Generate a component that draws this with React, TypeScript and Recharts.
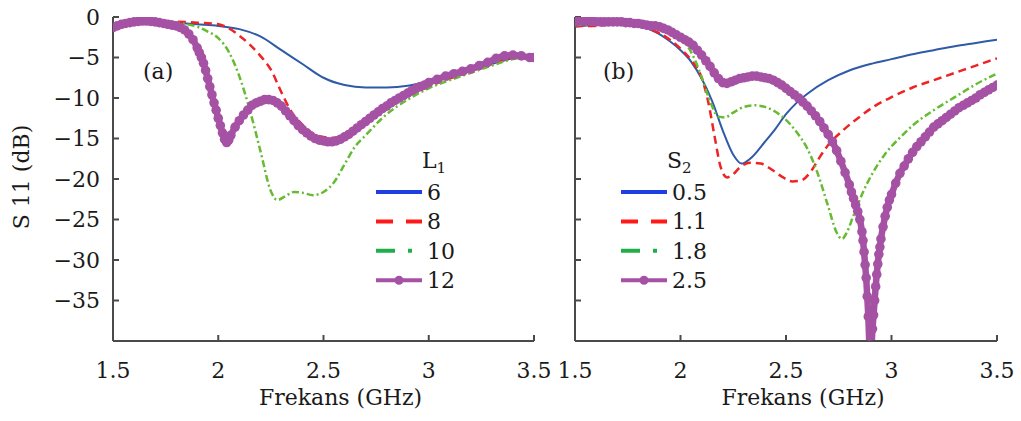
import React from 'react';
import { LineChart, Line, XAxis, YAxis, Legend } from 'recharts';

const FONT = '"DejaVu Serif", serif';
const TEXT = '#1a1a1a';
const AXIS = '#4a4a4a';
const FS = 22;

const X_TICKS = [1.5, 2, 2.5, 3, 3.5];
const Y_TICKS = [-35, -30, -25, -20, -15, -10, -5, 0];

// series styles, order: thin solid, dashed, dash-dot, thick with markers
const CURVE_COLORS = ['#2f5aa8', '#ee2424', '#66bb33', '#a552a5'];
const KEY_COLORS = ['#1f3fe0', '#ff1a1a', '#1fae48', '#a552a5'];
const CURVE_DASH = [undefined, '8 5', '7 3 2 3', undefined];
const CURVE_WIDTH = [2, 2.5, 2.5, 6.5];
const KEY_DASH = [undefined, '17 13', '19 13 4 20', undefined];

// (a) L1 sweep
const namesA = ['6', '8', '10', '12'];
const freqA6 = [1.5, 1.6, 1.7, 1.8, 1.9, 2.0, 2.1, 2.2, 2.3, 2.4, 2.5, 2.6, 2.7, 2.8, 2.9, 3.0, 3.1, 3.2, 3.3, 3.4, 3.5];
const s11A6 = [-1.0, -0.7, -0.6, -0.7, -0.9, -1.1, -1.5, -2.4, -4.1, -5.8, -7.5, -8.4, -8.7, -8.7, -8.5, -7.9, -7.2, -6.5, -5.8, -5.1, -4.9];
const freqA8 = [1.5, 1.6, 1.7, 1.8, 1.9, 2.0, 2.05, 2.1, 2.15, 2.2, 2.25, 2.3, 2.35, 2.4, 2.45, 2.5, 2.55, 2.6, 2.7, 2.8, 2.9, 3.0, 3.1, 3.2, 3.3, 3.4, 3.5];
const s11A8 = [-0.9, -0.7, -0.6, -0.6, -0.7, -0.9, -1.4, -2.3, -3.4, -4.8, -6.5, -9.3, -11.8, -13.3, -14.4, -14.8, -14.9, -14.5, -13.0, -11.3, -9.8, -8.6, -7.6, -6.7, -5.8, -5.0, -4.8];
const freqA10 = [1.5, 1.6, 1.7, 1.8, 1.85, 1.9, 1.95, 2.0, 2.05, 2.1, 2.15, 2.2, 2.25, 2.28, 2.32, 2.36, 2.4, 2.45, 2.5, 2.55, 2.6, 2.65, 2.7, 2.8, 2.9, 3.0, 3.1, 3.2, 3.3, 3.4, 3.5];
const s11A10 = [-1.0, -0.7, -0.6, -0.7, -0.9, -1.2, -1.8, -2.6, -4.3, -7.3, -11.5, -16.5, -21.5, -22.6, -22.1, -21.6, -21.7, -22.0, -21.6, -20.4, -18.2, -16.0, -14.6, -12.0, -10.2, -8.8, -7.8, -6.9, -6.0, -5.2, -4.9];
const freqA12 = [
  1.5, 1.52, 1.54, 1.56, 1.58, 1.6, 1.62, 1.64, 1.66, 1.68, 1.7, 1.72, 1.74, 1.76, 1.78, 1.8, 1.82, 1.84, 1.86, 1.88,
  1.9, 1.91, 1.92, 1.93, 1.94, 1.95, 1.96, 1.97, 1.98, 1.99, 2.0, 2.01, 2.02, 2.03, 2.04, 2.05, 2.06, 2.08, 2.1, 2.12,
  2.14, 2.16, 2.18, 2.2, 2.22, 2.24, 2.26, 2.28, 2.3, 2.32, 2.34, 2.36, 2.38, 2.4, 2.42, 2.44, 2.46, 2.48, 2.5, 2.52,
  2.54, 2.56, 2.58, 2.6, 2.62, 2.64, 2.66, 2.68, 2.7, 2.72, 2.74, 2.76, 2.78, 2.8, 2.82, 2.84, 2.86, 2.88, 2.9, 2.92,
  2.94, 2.96, 2.98, 3.0, 3.04, 3.08, 3.12, 3.16, 3.2, 3.24, 3.28, 3.32, 3.36, 3.4, 3.44, 3.48, 3.5,
];
const s11A12 = [
  -1.3, -1.1, -0.9, -0.8, -0.7, -0.6, -0.55, -0.5, -0.5, -0.55, -0.6, -0.7, -0.8, -0.9, -1.0, -1.1, -1.3, -1.6, -2.1, -2.8,
  -3.8, -4.4, -5.0, -5.7, -6.6, -7.6, -8.6, -9.6, -10.6, -11.5, -12.5, -13.4, -14.3, -15.1, -15.5, -15.2, -14.6, -13.6, -12.8, -12.1,
  -11.5, -10.9, -10.6, -10.4, -10.2, -10.2, -10.3, -10.6, -11.0, -11.6, -12.2, -12.8, -13.4, -13.9, -14.3, -14.7, -15.0, -15.2, -15.3, -15.4,
  -15.4, -15.3, -15.1, -14.8, -14.5, -14.1, -13.7, -13.3, -12.9, -12.5, -12.1, -11.7, -11.3, -11.0, -10.6, -10.3, -10.0, -9.7, -9.4, -9.1,
  -8.8, -8.6, -8.4, -8.1, -7.7, -7.3, -7.0, -6.7, -6.4, -6.0, -5.6, -5.1, -4.8, -4.7, -4.8, -5.0, -5.0,
];

// (b) S2 sweep
const namesB = ['0.5', '1.1', '1.8', '2.5'];
const freqB05 = [1.5, 1.6, 1.7, 1.8, 1.85, 1.9, 1.95, 2.0, 2.05, 2.1, 2.15, 2.2, 2.25, 2.29, 2.33, 2.4, 2.45, 2.5, 2.55, 2.6, 2.7, 2.8, 2.9, 3.0, 3.1, 3.2, 3.3, 3.4, 3.5];
const s11B05 = [-1.2, -1.0, -0.9, -1.2, -1.5, -2.1, -3.0, -4.1, -5.5, -7.6, -10.4, -14.0, -17.0, -18.1, -17.5, -15.4, -13.8, -12.0, -10.6, -9.5, -7.8, -6.6, -5.8, -5.2, -4.6, -4.1, -3.6, -3.2, -2.8];
const freqB11 = [1.5, 1.6, 1.7, 1.8, 1.85, 1.9, 1.95, 2.0, 2.05, 2.1, 2.13, 2.16, 2.19, 2.22, 2.25, 2.28, 2.33, 2.38, 2.43, 2.48, 2.53, 2.57, 2.62, 2.66, 2.7, 2.77, 2.85, 2.92, 3.0, 3.1, 3.2, 3.3, 3.4, 3.5];
const s11B11 = [-1.1, -1.1, -0.9, -1.1, -1.5, -2.0, -2.8, -3.9, -5.3, -7.5, -10.3, -14.5, -18.5, -19.8, -19.4, -18.6, -18.0, -18.1, -18.8, -19.7, -20.3, -20.2, -19.0, -17.3, -15.8, -14.0, -12.3, -11.0, -9.9, -8.7, -7.8, -6.9, -6.0, -5.1];
const freqB18 = [1.5, 1.6, 1.7, 1.8, 1.85, 1.9, 1.95, 2.0, 2.05, 2.1, 2.14, 2.18, 2.21, 2.25, 2.3, 2.35, 2.4, 2.45, 2.5, 2.55, 2.6, 2.65, 2.7, 2.74, 2.765, 2.79, 2.82, 2.86, 2.91, 2.97, 3.04, 3.1, 3.2, 3.3, 3.4, 3.5];
const s11B18 = [-1.0, -0.9, -0.8, -1.0, -1.3, -1.6, -2.0, -2.6, -4.3, -7.4, -10.4, -12.3, -12.4, -11.8, -11.1, -10.9, -11.1, -11.7, -12.7, -14.2, -16.2, -19.3, -23.4, -26.6, -27.4, -26.5, -24.5, -21.9, -19.3, -16.9, -14.9, -13.4, -11.5, -9.9, -8.3, -7.0];
const freqB25 = [
  1.5, 1.52, 1.54, 1.56, 1.58, 1.6, 1.62, 1.64, 1.66, 1.68, 1.7, 1.72, 1.74, 1.76, 1.78, 1.8, 1.82, 1.84, 1.86, 1.88,
  1.9, 1.92, 1.94, 1.96, 1.98, 2.0, 2.02, 2.04, 2.06, 2.08, 2.1, 2.12, 2.14, 2.16, 2.18, 2.2, 2.22, 2.24, 2.26, 2.28,
  2.3, 2.32, 2.34, 2.36, 2.38, 2.4, 2.42, 2.44, 2.46, 2.48, 2.5, 2.52, 2.54, 2.56, 2.58, 2.6, 2.62, 2.64, 2.66, 2.68,
  2.7, 2.72, 2.74, 2.76, 2.78, 2.8, 2.81, 2.82, 2.83, 2.84, 2.85, 2.86, 2.865, 2.87, 2.875, 2.88, 2.885, 2.89, 2.895, 2.9,
  2.905, 2.91, 2.915, 2.92, 2.925, 2.93, 2.935, 2.94, 2.945, 2.95, 2.96, 2.97, 2.98, 2.99, 3.0, 3.02, 3.04, 3.06, 3.08, 3.1,
  3.12, 3.14, 3.16, 3.18, 3.2, 3.22, 3.24, 3.26, 3.28, 3.3, 3.32, 3.34, 3.36, 3.38, 3.4, 3.42, 3.44, 3.46, 3.48, 3.5,
];
const s11B25 = [
  -0.6, -0.5, -0.5, -0.5, -0.5, -0.6, -0.6, -0.6, -0.6, -0.6, -0.6, -0.6, -0.7, -0.7, -0.8, -0.8, -0.9, -1.0, -1.1, -1.1,
  -1.2, -1.4, -1.6, -1.9, -2.2, -2.5, -2.8, -3.1, -3.5, -4.1, -4.7, -5.4, -6.1, -6.9, -7.6, -8.1, -8.2, -8.0, -7.8, -7.6,
  -7.5, -7.4, -7.3, -7.3, -7.4, -7.5, -7.6, -7.8, -8.1, -8.4, -8.8, -9.2, -9.6, -10.0, -10.5, -11.0, -11.6, -12.2, -12.9, -13.7,
  -14.5, -15.4, -16.5, -17.8, -19.2, -20.7, -21.6, -22.4, -23.2, -24.0, -25.0, -26.5, -27.6, -29.0, -30.6, -32.2, -34.5, -37.0, -40.5, -45.0,
  -41.0, -38.5, -36.8, -35.0, -33.3, -31.8, -30.5, -29.3, -28.4, -27.4, -25.9, -24.6, -23.5, -22.6, -21.9, -20.5, -19.3, -18.4, -17.5, -16.7,
  -16.0, -15.4, -14.8, -14.2, -13.6, -13.2, -12.8, -12.4, -12.0, -11.6, -11.2, -10.9, -10.6, -10.3, -10.0, -9.6, -9.3, -9.0, -8.7, -8.4,
];

const toPoints = (f: number[], v: number[]) => f.map((x, i) => ({ f: x, v: v[i] }));

const seriesA = [toPoints(freqA6, s11A6), toPoints(freqA8, s11A8), toPoints(freqA10, s11A10), toPoints(freqA12, s11A12)];
const seriesB = [toPoints(freqB05, s11B05), toPoints(freqB11, s11B11), toPoints(freqB18, s11B18), toPoints(freqB25, s11B25)];

const fmtY = (v: number) => (v === 0 ? '0' : `\u2212${Math.abs(v)}`);

function KeyBox({ title, sub, names }: { title: string; sub: string; names: string[] }) {
  return (
    <svg width={110} height={160} style={{ display: 'block' }}>
      <text x={52} y={28} fontFamily={FONT} fontSize={FS} fill={TEXT}>
        {title}
        <tspan fontSize={15} dy={5}>{sub}</tspan>
      </text>
      {names.map((n, i) => {
        const cy = 52 + i * 29.4;
        return (
          <g key={n}>
            <line x1={6} x2={52} y1={cy} y2={cy} stroke={KEY_COLORS[i]} strokeWidth={4} strokeDasharray={KEY_DASH[i]} />
            {i === 3 && <circle cx={29} cy={cy} r={4.5} fill={KEY_COLORS[i]} />}
            <text x={57} y={cy + 8} fontFamily={FONT} fontSize={FS} fill={TEXT}>{n}</text>
          </g>
        );
      })}
    </svg>
  );
}

interface PanelProps {
  left: number;
  width: number;
  yWidth: number;
  marginRight: number;
  series: { f: number; v: number }[][];
  names: string[];
  title: string;
  sub: string;
  keyLeft: number;
  yLabels: boolean;
}

function Panel({ left, width, yWidth, marginRight, series, names, title, sub, keyLeft, yLabels }: PanelProps) {
  const tickStyle = { fontSize: FS, fontFamily: FONT, fill: TEXT };
  return (
    <div style={{ position: 'absolute', left, top: 0 }}>
      <LineChart width={width} height={421} margin={{ top: 17, right: marginRight, bottom: 0, left: 0 }}>
        <XAxis
          type="number"
          dataKey="f"
          domain={[1.5, 3.5]}
          ticks={X_TICKS}
          interval={0}
          allowDataOverflow
          height={80}
          tickSize={-6}
          tickMargin={27}
          stroke={AXIS}
          strokeWidth={2}
          tick={tickStyle}
          label={{ value: 'Frekans (GHz)', position: 'insideBottom', offset: 16, dx: 17, fontSize: FS, fontFamily: FONT, fill: TEXT }}
        />
        <YAxis
          type="number"
          domain={[-40, 0]}
          ticks={Y_TICKS}
          interval={0}
          allowDataOverflow
          width={yWidth}
          tickSize={-6}
          tickMargin={19}
          stroke={AXIS}
          strokeWidth={2}
          tick={tickStyle}
          tickFormatter={yLabels ? fmtY : () => ''}
        />
        {series.map((pts, i) => (
          <Line
            key={names[i]}
            data={pts}
            dataKey="v"
            name={names[i]}
            type="monotone"
            stroke={CURVE_COLORS[i]}
            strokeWidth={CURVE_WIDTH[i]}
            strokeDasharray={CURVE_DASH[i]}
            dot={i === 3 ? { r: 4.8, fill: CURVE_COLORS[i], stroke: 'none' } : false}
            activeDot={false}
            isAnimationActive={false}
          />
        ))}
        <Legend
          layout="vertical"
          align="center"
          verticalAlign="middle"
          wrapperStyle={{ left: keyLeft, top: 140, width: 110, height: 160 }}
          content={() => <KeyBox title={title} sub={sub} names={names} />}
        />
      </LineChart>
    </div>
  );
}

export default function App() {
  return (
    <div style={{ position: 'absolute', left: 0, top: 0, width: 1021, height: 421, background: '#fff', overflow: 'hidden', fontFamily: FONT, color: TEXT }}>
      <Panel left={0} width={556} yWidth={113} marginRight={22} series={seriesA} names={namesA} title="L" sub="1" keyLeft={370} yLabels />
      <Panel left={556} width={465} yWidth={19} marginRight={24} series={seriesB} names={namesB} title="S" sub="2" keyLeft={59} yLabels={false} />
      <div style={{ position: 'absolute', left: -78, top: 165, width: 200, lineHeight: '24px', fontSize: FS, textAlign: 'center', transform: 'rotate(-90deg)' }}>
        S 11 (dB)
      </div>
      <div style={{ position: 'absolute', left: 143, top: 60, fontSize: FS, lineHeight: '24px' }}>(a)</div>
      <div style={{ position: 'absolute', left: 603, top: 60, fontSize: FS, lineHeight: '24px' }}>(b)</div>
    </div>
  );
}
